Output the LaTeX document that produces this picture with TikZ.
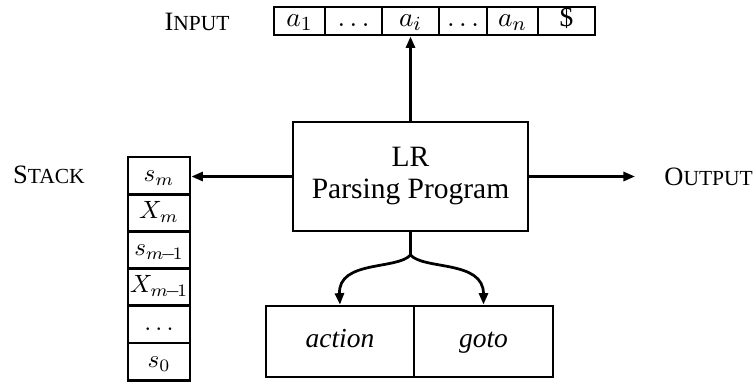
\documentclass[tikz,border=0pt]{standalone}
\usepackage{fontspec}
\setmainfont{Liberation Serif}
\usetikzlibrary{arrows.meta}
\newcommand{\fakesc}[2]{#1{\fontsize{8.6}{10}\selectfont #2}}
\begin{document}
\begin{tikzpicture}[x=0.4pt,y=-0.4pt,line width=1.1pt,
  cell/.style={draw,inner sep=0pt,minimum height=11.2pt,text height=1.4ex,text depth=0.4ex,font=\fontsize{11}{13}\selectfont},
  stk/.style={draw,inner sep=0pt,minimum width=24.8pt,minimum height=14.88pt,text height=1.5ex,text depth=0.5ex,font=\fontsize{10}{12}\selectfont},
  tbl/.style={draw,inner sep=0pt,minimum height=28.4pt,text height=1.5ex,text depth=0.5ex,font=\fontsize{11}{13}\selectfont\itshape},
  lab/.style={inner sep=0pt,font=\fontsize{10.6}{12}\selectfont},
  arr/.style={-{Triangle[length=4.6pt,width=3.6pt]}}]
\useasboundingbox (0,0) rectangle (756,382);
% input tape
\node[cell,minimum width=20.4pt] (t1) at (299.5,21) {$a_1$};
\node[cell,minimum width=22.8pt] (t2) at (353.5,21) {$\dots$};
\node[cell,minimum width=22.8pt] (t3) at (410.5,21) {$a_i$};
\node[cell,minimum width=19.2pt] (t4) at (463,21) {$\dots$};
\node[cell,minimum width=20.4pt] (t5) at (512.5,21) {$a_n$};
\node[cell,minimum width=22.8pt] (t6) at (566.5,21) {\$};
\node[lab] (inlab) at (197,22) {\fakesc{I}{NPUT}};
% main program
\node[draw,inner sep=0pt,minimum width=94pt,minimum height=43.6pt,align=center,
  font=\fontsize{11.8}{12.8}\selectfont] (main) at (410.5,176.5) {LR\\Parsing Program};
% stack
\node[stk] (s1) at (159,175.6) {$s_m$};
\node[stk] (s2) at (159,212.8) {$X_m$};
\node[stk] (s3) at (159,250) {$s_{m\!-\!1}$};
\node[stk] (s4) at (159,287.2) {\makebox[0pt]{$X_{m\!-\!1}$}};
\node[stk] (s5) at (159,324.4) {$\dots$};
\node[stk] (s6) at (159,361.6) {$s_0$};
\node[lab] (stlab) at (49,175) {\fakesc{S}{TACK}};
% output
\node[lab,anchor=west] (outlab) at (663,176.5) {\fakesc{O}{UTPUT}};
% parsing table
\node[tbl,minimum width=59.2pt] (action) at (340,341.5) {action};
\node[tbl,minimum width=55.6pt] (goto) at (483.5,341.5) {goto};
% connectors
\draw[arr] (main.north) -- (t3.south);
\draw[arr] (main.west) -- (main.west -| s1.east);
\draw[arr,shorten >=11.2pt] (main.east) -- (outlab.west);
\coordinate (br) at (410.5,255);
\draw (main.south) -- (br);
\draw[arr] (br) .. controls (397,270) and (338,260) .. (action.north);
\draw[arr] (br) .. controls (424,270) and (483.5,260) .. (goto.north);
\end{tikzpicture}
\end{document}
